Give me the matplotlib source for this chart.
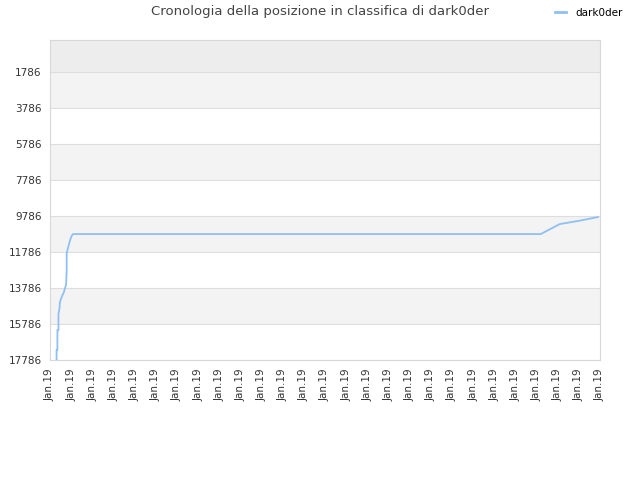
import matplotlib.pyplot as plt
from matplotlib.lines import Line2D

# posizione in classifica nel tempo (giorni, rank)
giorni = [3.1, 3.1, 3.5, 3.5, 4.0, 4.0, 4.5, 4.7, 5.7, 6.6, 7.1, 7.6, 7.9, 7.9,
          8.5, 9.0, 9.5, 10.2, 10.9, 232.0, 241.0, 250.0, 259.0]
posizioni = [17786, 17230, 17230, 16119, 16119, 15230, 14900, 14564, 14230, 14008,
             13786, 13619, 12786, 11841, 11564, 11341, 11119, 10897, 10786, 10786,
             10230, 10050, 9842]

y_ticks = [1786, 3786, 5786, 7786, 9786, 11786, 13786, 15786, 17786]
n_x_ticks = 27
x_tick_label = "Jan.19"
titolo = "Cronologia della posizione in classifica di dark0der"
nome = "dark0der"

fig = plt.figure(figsize=(6.4, 4.8), dpi=100)
ax = fig.add_axes([50 / 640, 1 - 360 / 480, 550 / 640, 320 / 480])

x_min, x_max = 0, 260
y_top, y_bottom = 0, 17786
ax.set_xlim(x_min, x_max)
ax.set_ylim(y_bottom, y_top)

# bande alternate di sfondo
bordi = [y_top] + y_ticks
for i in range(len(bordi) - 1):
    if i == 0:
        col = "#ededed"
    elif i % 2 == 1:
        col = "#f3f3f3"
    else:
        col = "#ffffff"
    ax.axhspan(bordi[i], bordi[i + 1], color=col, zorder=0, lw=0)
for t in y_ticks:
    ax.axhline(t, color="#dedede", lw=0.8, zorder=1)

ax.plot(giorni, posizioni, color="#90c0f2", lw=1.3, zorder=3)

ax.set_yticks(y_ticks)
ax.set_yticklabels([str(t) for t in y_ticks])
xt = [x_min + (x_max - x_min) * i / (n_x_ticks - 1) for i in range(n_x_ticks)]
ax.set_xticks(xt)
ax.set_xticklabels([x_tick_label] * n_x_ticks, rotation=90)
ax.tick_params(length=0, labelsize=7.5, colors="#333333", pad=6)
for s in ax.spines.values():
    s.set_color("#d8d8d8")

fig.text(0.5, 1 - 12 / 480, titolo, ha="center", va="center", fontsize=9.5, color="#444444")
handle = Line2D([0], [0], color="#90c0f2", lw=2)
fig.legend([handle], [nome], loc="center left", bbox_to_anchor=(555 / 640, 1 - 13 / 480),
           frameon=False, fontsize=7.5, handlelength=1.05, handletextpad=0.9,
           borderpad=0, borderaxespad=0)

fig.savefig("out.png", dpi=100)
